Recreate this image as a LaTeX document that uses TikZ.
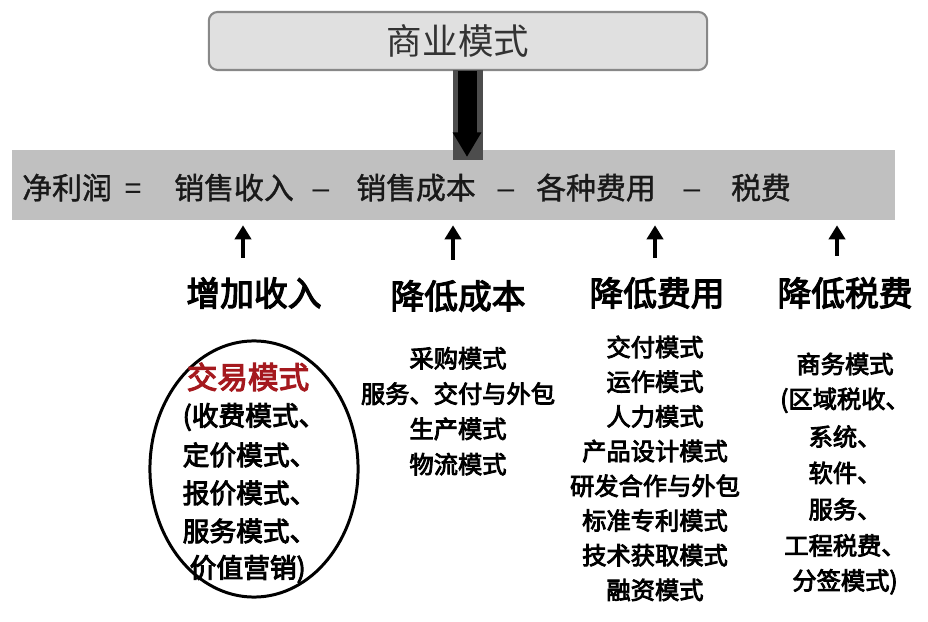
\documentclass[tikz,border=0pt]{standalone}
\usepackage{fontspec}
\setmainfont{Noto Sans CJK SC}
\newfontfamily\medtext[FakeBold=3.5]{Noto Sans CJK SC}
\newfontfamily\lighttext[FakeBold=1.2]{Noto Sans CJK SC}
\newfontfamily\latinsans{Liberation Sans}
\usetikzlibrary{arrows.meta}
\usetikzlibrary{positioning}

\definecolor{bandgray}{RGB}{192,192,192}
\definecolor{topgray}{RGB}{224,224,224}
\definecolor{edgegray}{RGB}{136,136,136}
\definecolor{shadegray}{RGB}{77,77,77}
\definecolor{modered}{RGB}{165,25,30}

\begin{document}
\begin{tikzpicture}[x=0.01cm, y=-0.01cm,
    every node/.style={inner sep=0pt},
    topbox/.style={draw=edgegray, fill=topgray, rounded corners=2.5pt, line width=0.6pt,
      minimum width=4.98cm, minimum height=0.58cm, text=black!80, font=\fontsize{10.1}{12}\selectfont},
    bandtext/.style={anchor=base, text=black!90, font=\lighttext\fontsize{8.5}{10}\selectfont},
    headtext/.style={font=\medtext\fontsize{9.6}{11}\selectfont},
    circtext/.style={font=\medtext\fontsize{7.6}{9}\selectfont},
    listtext/.style={font=\medtext\fontsize{6.9}{8}\selectfont},
    uparrow/.style={line width=1.1pt, -{Triangle[length=4pt, width=4.6pt]}}]
  \fill[white] (0,0) rectangle (928,622);
  \useasboundingbox (0,0) rectangle (928,622);
  % Formula band
  \node[fill=bandgray, minimum width=8.83cm, minimum height=0.7cm] (band) at (453.5,185) {};
  % Top box with the drop arrow
  \node[topbox] (top) at (458,41) {商业模式};
  \fill[shadegray] (453,70) rectangle (483,160);
  \coordinate (drop) at (467,157);
  \draw[line width=5.4pt, -{Triangle[length=7pt, width=7.7pt]}] (drop |- top.south) -- (drop);
  % Terms of the formula
  \foreach \t/\x [count=\i] in {净利润/67, {\latinsans =}/133, 销售收入/234, {\latinsans –}/321, 销售成本/416, {\latinsans –}/506, 各种费用/596, {\latinsans –}/692, 税费/761}
    \node[bandtext] (b\i) at (\x,199) {\t};
  % Four levers
  \node[headtext] (incr) at (254,293) {增加收入};
  \node[headtext] (lowcost) at (458,296) {降低成本};
  \node[headtext] (lowfee) at (657,293) {降低费用};
  \node[headtext] (lowtax) at (845,293) {降低税费};
  % Arrows up to the band
  \foreach \x/\y [count=\i] in {243/258, 453/260, 655/258, 837/256} {
    \coordinate (u\i) at (\x,\y);
    \draw[uparrow, shorten >=1.3pt] (u\i) -- (u\i |- band.south);
  }
  % Circled revenue models
  \draw[line width=0.85pt] (254,469) ellipse [x radius=1.04cm, y radius=1.28cm];
  \node[circtext, text=modered, font=\medtext\fontsize{8.7}{10}\selectfont] (trade) at (248,377) {交易模式};
  \foreach \t/\x [count=\i] in {{(收费模式、}/182, 定价模式、/182, 报价模式、/182, 服务模式、/182, {价值营销)}/189}
    \node[circtext, anchor=west] (c\i) at (\x,379+\i*38) {\t};
  % Cost models
  \foreach \t [count=\i] in {采购模式, 服务、交付与外包, 生产模式, 物流模式}
    \node[listtext] (p\i) at (458,323+\i*35.3) {\t};
  % Expense models
  \foreach \t [count=\i] in {交付模式, 运作模式, 人力模式, 产品设计模式, 研发合作与外包, 标准专利模式, 技术获取模式, 融资模式}
    \node[listtext] (f\i) at (655,312.3+\i*34.7) {\t};
  % Tax models
  \foreach \t [count=\i] in {商务模式, {(区域税收、}, 系统、, 软件、, 服务、, 工程税费、, {分签模式)}}
    \node[listtext] (t\i) at (845,327.7+\i*36.3) {\t};
\end{tikzpicture}
\end{document}
